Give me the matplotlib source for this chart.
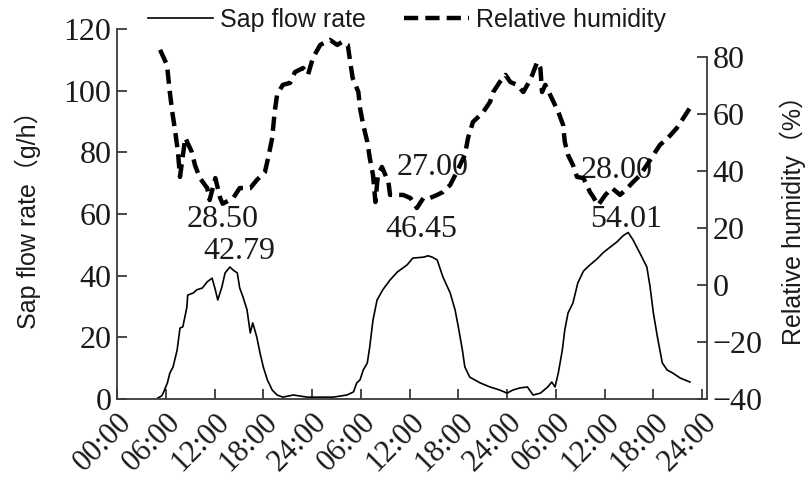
import matplotlib
matplotlib.use("Agg")
import matplotlib.pyplot as plt
from matplotlib.lines import Line2D

# ---- data ----
sap_hours = [5.0, 5.5, 5.7, 6.2, 6.5, 6.9, 7.4, 7.75, 8.1, 8.6, 8.7, 9.4, 9.8, 10.5, 11.1,
             11.7, 12.1, 12.4, 12.9, 13.3, 13.9, 14.3, 14.8, 15.1, 15.5, 16.0, 16.4, 16.7,
             17.2, 17.6, 18.0, 18.5, 19.1, 19.7, 20.4, 21.7, 23.4, 25.0, 26.6, 28.3, 29.1,
             29.5, 29.9, 30.3, 30.8, 31.1, 31.5, 32.0, 32.7, 33.6, 34.5, 35.7, 36.4, 37.7,
             38.3, 38.8, 39.4, 40.1, 41.0, 41.6, 42.0, 42.5, 42.8, 43.4, 44.7, 45.9, 47.1,
             48.0, 48.7, 49.6, 50.5, 51.2, 52.1, 53.0, 53.5, 53.9, 54.3, 54.8, 55.1, 55.5,
             56.1, 56.7, 57.4, 58.2, 59.1, 59.8, 60.7, 61.5, 62.3, 62.9, 63.5, 64.4, 65.2,
             65.6, 66.0, 66.5, 67.1, 67.7, 68.4, 69.3, 70.5]
sap_flow = [0.3, 1.0, 2.0, 5.2, 8.4, 10.4, 15.9, 23.0, 23.4, 29.8, 33.7, 34.4, 35.4, 36.0, 38.0,
            39.2, 35.4, 32.1, 36.3, 40.9, 42.8, 41.8, 40.9, 36.0, 33.1, 28.9, 21.4, 24.7,
            20.1, 14.9, 10.4, 6.2, 2.9, 1.3, 0.6, 1.3, 0.6, 0.6, 0.6, 1.3, 2.3,
            5.2, 6.2, 9.4, 11.7, 16.9, 25.6, 32.1, 35.4, 38.6, 41.2, 43.5, 45.7, 46.0,
            46.45, 46.0, 45.1, 39.6, 34.4, 28.9, 23.4, 15.9, 10.4, 7.1, 5.2, 3.9, 2.9,
            1.9, 2.9, 3.6, 3.9, 1.3, 1.9, 3.9, 5.5, 3.9, 8.4, 15.9, 22.4, 27.9,
            31.1, 37.6, 41.5, 43.5, 45.5, 47.4, 49.3, 50.9, 53.0, 54.01, 51.6, 47.0, 42.8,
            36.3, 27.9, 20.1, 11.7, 9.4, 8.4, 6.8, 5.5]

rh_hours = [5.3, 6.15, 6.5, 6.8, 7.1, 7.5, 7.75, 8.4, 9.2, 9.6, 10.2, 11.1, 11.4, 12.1, 12.7,
            13.0, 14.3, 15.1, 16.4, 17.2, 18.2, 18.6, 19.1, 19.4, 19.7, 20.4, 21.3, 21.9,
            22.9, 23.5, 24.1, 25.0, 26.2, 27.1, 27.7, 28.4, 28.7, 29.0, 29.7, 29.9, 30.3,
            30.8, 31.1, 31.5, 31.8, 32.1, 32.6, 33.4, 33.6, 34.5, 35.2, 36.1, 36.9, 37.7,
            38.5, 39.4, 40.1, 41.0, 41.8, 42.8, 43.2, 43.8, 45.0, 45.9, 46.3, 47.1, 47.8,
            48.4, 49.2, 50.0, 50.5, 51.1, 51.7, 52.1, 52.3, 52.7, 53.3, 54.3, 54.9, 55.1,
            55.5, 56.1, 56.6, 57.4, 58.2, 58.6, 59.2, 60.1, 60.9, 61.9, 62.8, 63.5, 64.4,
            65.2, 66.0, 66.8, 67.8, 68.9, 69.7, 70.5]
rh_values = [82.5, 77.2, 67.7, 60.7, 55.1, 46.7, 37.9, 51.6, 46.7, 42.0, 37.5, 34.0, 29.8, 37.5, 30.5,
             28.5, 30.5, 34.0, 34.0, 36.8, 39.6, 44.6, 51.6, 60.7, 66.7, 70.2, 70.9, 74.7,
             76.1, 73.7, 79.6, 84.2, 86.0, 84.2, 85.3, 84.2, 78.2, 72.6, 67.7, 62.1, 56.1,
             50.2, 44.6, 38.6, 29.1, 38.6, 41.4, 36.1, 31.6, 31.6, 31.6, 30.5, 27.0, 30.5,
             30.5, 31.6, 32.6, 35.1, 39.6, 45.6, 51.6, 57.2, 60.4, 64.2, 67.7, 71.2, 73.7,
             71.2, 70.2, 67.7, 70.2, 73.7, 78.2, 76.1, 67.7, 70.2, 66.7, 60.7, 56.1, 50.2,
             45.6, 42.1, 37.9, 37.5, 32.6, 30.9, 28.0, 31.6, 34.0, 31.6, 34.0, 36.1, 38.6,
             42.1, 45.6, 49.1, 51.6, 55.1, 58.6, 62.1]

x_ticks = [0, 6, 12, 18, 24, 30, 36, 42, 48, 54, 60, 66, 72]
x_labels = ["00:00", "06:00", "12:00", "18:00", "24:00", "06:00", "12:00",
            "18:00", "24:00", "06:00", "12:00", "18:00", "24:00"]
left_ticks = [0, 20, 40, 60, 80, 100, 120]
right_ticks = [-40, -20, 0, 20, 40, 60, 80]

ann_text = ["28.50", "42.79", "27.00", "46.45", "28.00", "54.01"]
ann_x = [13.0, 15.1, 38.8, 37.5, 61.5, 62.6]
ann_y = [58.1, 47.7, 75.2, 55.1, 74.0, 58.1]

# ---- styling ----
SERIF = ["Liberation Serif", "DejaVu Serif"]
SANS = ["Liberation Sans", "Noto Sans CJK SC", "DejaVu Sans"]
spine_c = "#3a3a3a"
text_c = "#1a1a1a"

fig = plt.figure(figsize=(8.09, 4.79), dpi=100)
ax = fig.add_axes([117/809, 1-399/479, (707-117)/809, (399-29)/479])
ax2 = ax.twinx()

l1, = ax.plot(sap_hours, sap_flow, color="black", lw=1.2)
l2, = ax2.plot(rh_hours, rh_values, color="black", lw=3.2, dashes=(3.2, 1.6))

ax.set_xlim(0, 72.6)
ax.set_ylim(0, 120)
ax2.set_ylim(-40, 89.8)

ax.set_xticks(x_ticks)
ax.set_xticklabels(x_labels, rotation=45, ha="right", va="top", rotation_mode="anchor",
                   fontfamily=SERIF, fontsize=22, color=text_c)
ax.set_yticks(left_ticks)
ax.set_yticklabels([str(t) for t in left_ticks], fontfamily=SERIF, fontsize=23, color=text_c)
ax2.set_yticks(right_ticks)
ax2.set_yticklabels([("\u2212" + str(-t)) if t < 0 else str(t) for t in right_ticks],
                    fontfamily=SERIF, fontsize=23, color=text_c)

for a in (ax, ax2):
    a.spines["top"].set_visible(False)
    for s in a.spines.values():
        s.set_color(spine_c)
        s.set_linewidth(1.3)
    a.tick_params(direction="in", length=7, width=1.3, color=spine_c, pad=4)
ax2.spines["left"].set_visible(False)
ax.spines["right"].set_visible(False)
ax2.spines["bottom"].set_visible(False)
ax2.spines["right"].set_bounds(-40, 80)
ax.tick_params(axis="x", pad=6)

ax.set_ylabel("Sap flow rate\uff08g/h\uff09", fontfamily=SANS, fontsize=18, color=text_c,
              labelpad=16)
ax2.set_ylabel("Relative humidity\uff08%\uff09", fontfamily=SANS, fontsize=18, color=text_c,
               labelpad=12)

for t, xv, yv in zip(ann_text, ann_x, ann_y):
    ax.text(xv, yv, t, ha="center", va="center", fontfamily=SERIF, fontsize=23, color=text_c)

h1 = Line2D([], [], color="black", lw=1.2)
h2 = Line2D([], [], color="black", lw=3.2, dashes=(3.2, 1.6))
fig.legend([h1, h2], ["Sap flow rate", "Relative humidity"], loc="upper center",
           bbox_to_anchor=(407/809, 1.03), ncol=2, frameon=False,
           prop={"family": SANS, "size": 18}, handlelength=2.6, handletextpad=0.3,
           columnspacing=1.5, labelcolor=text_c)

fig.savefig("out.png", dpi=100)
